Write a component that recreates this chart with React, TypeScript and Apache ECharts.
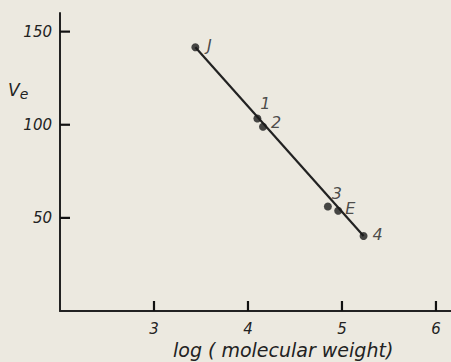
import React, { useEffect, useRef } from "react";
import * as echarts from "echarts";

// Elution volume vs. log(molecular weight) calibration
const pointNames = ["J", "1", "2", "3", "E", "4"];
const logMw = [3.44, 4.1, 4.16, 4.85, 4.96, 5.23];
const elutionVolume = [141.6, 103.4, 98.9, 56.1, 53.8, 40.3];
// label offsets (px) from each marker's centre
const labelOffsets: [number, number][] = [
  [14, -2],
  [8, -15],
  [13, -4],
  [9, -13],
  [12, -2],
  [14, -1],
];
const xTicks = [3, 4, 5, 6];
const yTicks = [50, 100, 150];
const X_MIN = 2;
const Y_MIN = 0;

const INK = "#222222";
const FONT = "DejaVu Sans";
const TICK_LEN = 10;
const TICK_W = 2.2;

export default function App() {
  const ref = useRef<HTMLDivElement>(null);

  useEffect(() => {
    if (!ref.current) return;
    const chart = echarts.init(ref.current, undefined, { renderer: "svg" });

    const points = pointNames.map((n, i) => ({
      value: [logMw[i], elutionVolume[i]],
      name: n,
      label: { offset: labelOffsets[i] },
    }));
    const first = 0;
    const last = pointNames.length - 1;

    chart.setOption({
      animation: false,
      backgroundColor: "#ece9e0",
      grid: { left: 60, right: 0, top: 13, bottom: 51, containLabel: false },
      xAxis: {
        type: "value",
        min: X_MIN,
        max: 6.16,
        interval: 1,
        splitLine: { show: false },
        axisLine: { onZero: false, lineStyle: { color: INK, width: 2 } },
        axisTick: { show: false },
        axisLabel: {
          color: INK,
          fontFamily: FONT,
          fontStyle: "italic",
          fontSize: 15,
          margin: 10,
          showMaxLabel: false,
          formatter: (v: number) => (xTicks.includes(v) ? String(v) : ""),
        },
      },
      yAxis: {
        type: "value",
        min: Y_MIN,
        max: 160,
        interval: 50,
        splitLine: { show: false },
        axisLine: { onZero: false, lineStyle: { color: INK, width: 2 } },
        axisTick: { show: false },
        axisLabel: {
          color: INK,
          fontFamily: FONT,
          fontStyle: "italic",
          fontSize: 15,
          margin: 8,
          showMaxLabel: false,
          formatter: (v: number) => (yTicks.includes(v) ? String(v) : ""),
        },
      },
      graphic: [
        {
          type: "text",
          left: 173,
          top: 340,
          style: {
            text: "log ( molecular weight)",
            font: `italic 19px "${FONT}"`,
            fill: INK,
          },
        },
        {
          type: "text",
          left: 8,
          top: 81,
          style: {
            text: "{v|V}{e|e}",
            rich: {
              v: { font: `italic 17px "${FONT}"`, fill: INK },
              e: { font: `italic 14px "${FONT}"`, fill: INK, padding: [9, 0, 0, 0] },
            },
          },
        },
      ],
      series: [
        // inward tick marks on the x axis
        {
          type: "scatter",
          symbol: "rect",
          clip: false,
          silent: true,
          z: 5,
          itemStyle: { color: "#111111", opacity: 1 },
          data: xTicks.map((v) => [v, Y_MIN]),
          symbolSize: [TICK_W, TICK_LEN],
          symbolOffset: [0, -TICK_LEN / 2],
        },
        // inward tick marks on the y axis
        {
          type: "scatter",
          symbol: "rect",
          clip: false,
          silent: true,
          z: 5,
          itemStyle: { color: "#111111", opacity: 1 },
          data: yTicks.map((v) => [X_MIN, v]),
          symbolSize: [TICK_LEN, TICK_W],
          symbolOffset: [TICK_LEN / 2, 0],
        },
        {
          type: "line",
          data: [
            [logMw[first], elutionVolume[first]],
            [logMw[last], elutionVolume[last]],
          ],
          symbol: "none",
          lineStyle: { color: INK, width: 2.2 },
          z: 2,
        },
        {
          type: "scatter",
          data: points,
          symbolSize: 8,
          itemStyle: { color: "#1c1c1c" },
          z: 3,
          label: {
            show: true,
            position: "inside",
            formatter: (p: any) => p.name,
            color: INK,
            fontFamily: FONT,
            fontStyle: "italic",
            fontSize: 16,
          },
        },
      ],
    });

    return () => chart.dispose();
  }, []);

  return (
    <div
      ref={ref}
      style={{ position: "absolute", left: 0, top: 0, width: 451, height: 362 }}
    />
  );
}
